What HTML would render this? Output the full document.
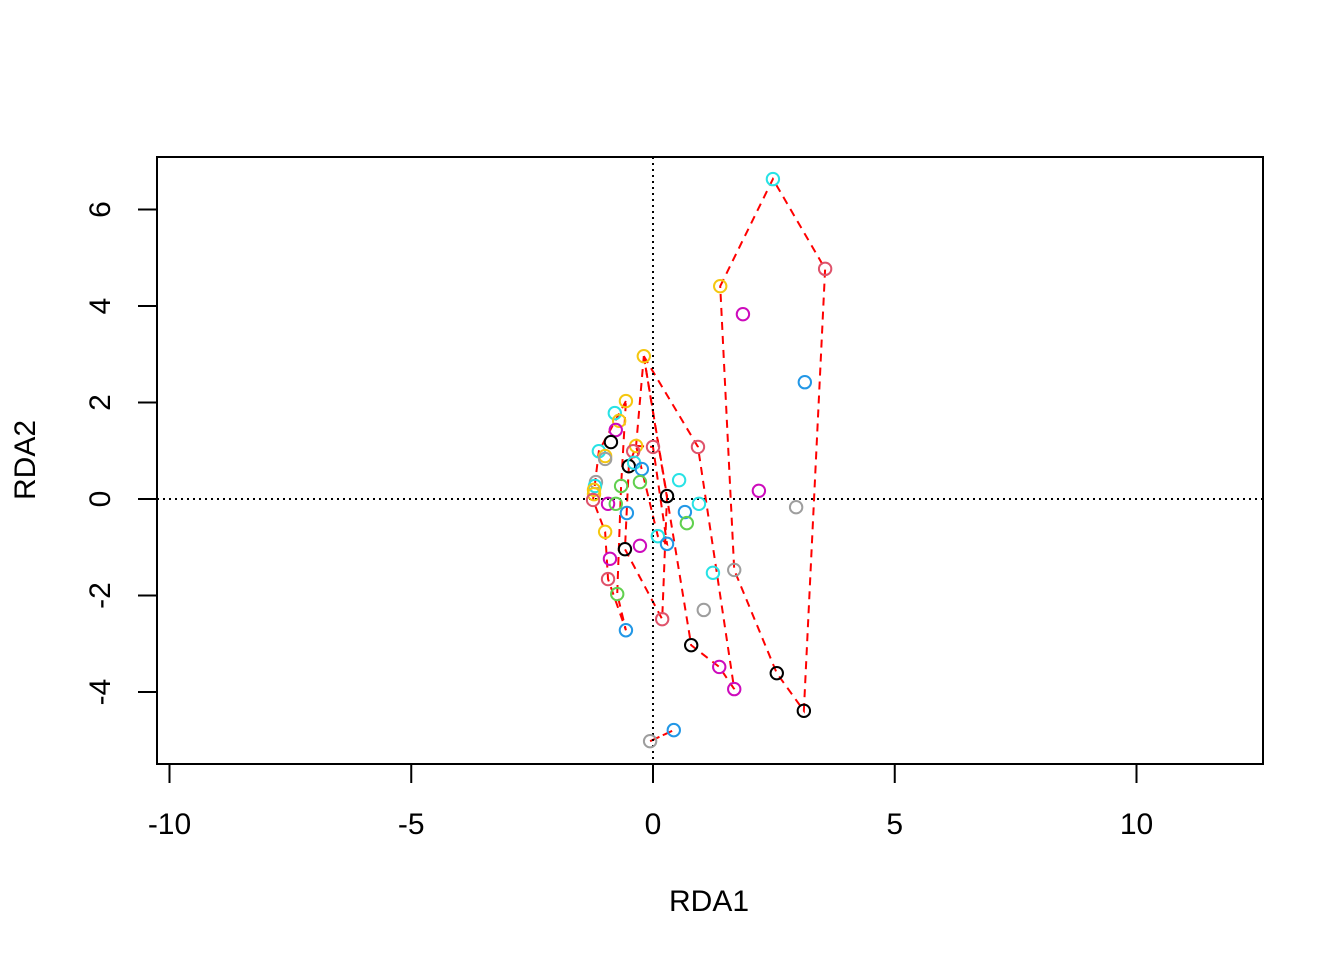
<!DOCTYPE html>
<html><head><meta charset="utf-8"><style>
html,body{margin:0;padding:0;background:#fff;}
svg{display:block;font-family:"Liberation Sans",Arial,sans-serif;}
</style></head><body>
<svg id="chart" width="1344" height="960" xmlns="http://www.w3.org/2000/svg">
<rect x="0" y="0" width="1344" height="960" fill="#fff"/>
<g id="hulls"></g>
<g id="refs"></g>
<g id="pts"></g>
<g id="axes"></g>
</svg>
<script>
const xTicks=[-10,-5,0,5,10];
const yTicks=[-4,-2,0,2,4,6];
const ptX=[-0.19,-0.56,-0.79,-0.70,-0.77,-0.87,-1.12,-0.99,-0.99,-0.35,-0.41,0.00,0.93,-0.50,-0.39,-0.23,0.54,-0.27,-0.66,-1.18,-1.20,-1.22,-1.22,-1.24,0.29,0.95,-0.93,-0.77,-0.54,0.66,0.70,-0.99,0.10,0.29,-0.58,-0.27,-0.89,-0.93,1.24,1.68,-0.74,1.05,0.19,-0.56,2.48,3.56,1.39,1.86,3.14,2.19,2.96,0.79,1.37,2.56,1.68,3.12,0.43,-0.06];
const ptY=[2.96,2.03,1.78,1.62,1.43,1.18,0.99,0.89,0.83,1.10,0.99,1.08,1.08,0.68,0.75,0.62,0.39,0.35,0.27,0.35,0.27,0.19,0.10,-0.02,0.06,-0.10,-0.10,-0.10,-0.29,-0.27,-0.50,-0.68,-0.77,-0.93,-1.04,-0.97,-1.24,-1.66,-1.53,-1.47,-1.97,-2.30,-2.49,-2.72,6.63,4.77,4.41,3.83,2.42,0.17,-0.17,-3.03,-3.48,-3.61,-3.94,-4.39,-4.79,-5.02];
const ptGroup=["yellow","yellow","cyan","yellow","magenta","black","cyan","yellow","gray","yellow","pink","pink","pink","black","cyan","blue","cyan","green","green","gray","cyan","yellow","yellow","pink","black","cyan","magenta","green","blue","blue","green","yellow","cyan","blue","black","magenta","magenta","pink","cyan","gray","green","gray","pink","blue","cyan","pink","yellow","magenta","blue","magenta","gray","black","magenta","black","magenta","black","blue","gray"];
const hullA_x=[1.39,2.48,3.56,3.12,2.56,1.68], hullA_y=[4.41,6.63,4.77,-4.39,-3.61,-1.47];
const hullB_x=[-0.19,0.93,1.68,1.37,0.79], hullB_y=[2.96,1.08,-3.94,-3.48,-3.03];
const hullC_x=[-0.19,0.29,0.19,-0.58,-0.50,-0.35], hullC_y=[2.96,0.06,-2.49,-1.04,0.68,1.10];
const hullD_x=[-0.35,0.00,0.29,0.10], hullD_y=[1.10,1.08,-0.93,-0.77];
const hullE_x=[-0.56,-1.12,-1.24,-0.99,-0.93,-0.56,-0.74,-0.66], hullE_y=[2.03,0.99,-0.02,-0.68,-1.66,-2.72,-1.97,0.27];
const hullF_x=[-0.06,0.43], hullF_y=[-5.02,-4.79];

const colors={black:"#000000",pink:"#DF536B",green:"#61D04F",blue:"#2297E6",cyan:"#28E2E5",magenta:"#CD0BBC",yellow:"#F5C710",gray:"#9E9E9E"};
const X=v=>653+v*48.35, Y=v=>499-v*48.25;
const NS="http://www.w3.org/2000/svg";
function mk(tag,parent){const e=document.createElementNS(NS,tag);document.getElementById(parent).appendChild(e);return e;}

[[hullA_x,hullA_y],[hullB_x,hullB_y],[hullC_x,hullC_y],[hullD_x,hullD_y],[hullE_x,hullE_y],[hullF_x,hullF_y]].forEach((h,i)=>{
  const p=mk("polygon","hulls");
  
  
  p.setAttribute("points",h[0].map((v,j)=>X(v)+","+Y(h[1][j])).join(" "));
  p.setAttribute("fill","none");p.setAttribute("stroke","#FF0000");p.setAttribute("stroke-width","2");p.setAttribute("stroke-dasharray","8,6");
});

let l=mk("line","refs");


l.setAttribute("x1",157);l.setAttribute("x2",1263);l.setAttribute("y1",Y(0));l.setAttribute("y2",Y(0));l.setAttribute("stroke","#000");l.setAttribute("stroke-width","2");l.setAttribute("stroke-dasharray","2,4");
l=mk("line","refs");


l.setAttribute("x1",X(0));l.setAttribute("x2",X(0));l.setAttribute("y1",157);l.setAttribute("y2",764);l.setAttribute("stroke","#000");l.setAttribute("stroke-width","2");l.setAttribute("stroke-dasharray","2,4");

ptX.forEach((v,i)=>{
  const c=mk("circle","pts");
  
  
  c.setAttribute("cx",X(v));c.setAttribute("cy",Y(ptY[i]));c.setAttribute("r",6.2);
  c.setAttribute("fill","none");c.setAttribute("stroke",colors[ptGroup[i]]);c.setAttribute("stroke-width","2");
});

const box=mk("rect","axes");


box.setAttribute("x",157);box.setAttribute("y",157);box.setAttribute("width",1106);box.setAttribute("height",607);box.setAttribute("fill","none");box.setAttribute("stroke","#000");box.setAttribute("stroke-width","2");

const xa=mk("path","axes");


let d="M"+X(xTicks[0])+",764H"+X(xTicks[xTicks.length-1]);
xTicks.forEach(t=>{d+="M"+X(t)+",764V783";});
xa.setAttribute("d",d);xa.setAttribute("stroke","#000");xa.setAttribute("stroke-width","2");xa.setAttribute("fill","none");
xTicks.forEach(t=>{
  const tx=mk("text","axes");
  
  
  tx.setAttribute("x",X(t));tx.setAttribute("y",834);tx.setAttribute("text-anchor","middle");tx.setAttribute("font-size","30");
  tx.textContent=String(t);
});
const ya=mk("path","axes");


d="M157,"+Y(yTicks[0])+"V"+Y(yTicks[yTicks.length-1]);
yTicks.forEach(t=>{d+="M157,"+Y(t)+"H138";});
ya.setAttribute("d",d);ya.setAttribute("stroke","#000");ya.setAttribute("stroke-width","2");ya.setAttribute("fill","none");
yTicks.forEach(t=>{
  const tx=mk("text","axes");
  
  
  tx.setAttribute("transform","translate(110,"+Y(t)+") rotate(-90)");tx.setAttribute("text-anchor","middle");tx.setAttribute("font-size","30");
  tx.textContent=String(t);
});
let tt=mk("text","axes");


tt.setAttribute("x",709);tt.setAttribute("y",911);tt.setAttribute("text-anchor","middle");tt.setAttribute("font-size","30");tt.textContent="RDA1";
tt=mk("text","axes");


tt.setAttribute("transform","translate(35,460) rotate(-90)");tt.setAttribute("text-anchor","middle");tt.setAttribute("font-size","30");tt.textContent="RDA2";
</script>
</body></html>
